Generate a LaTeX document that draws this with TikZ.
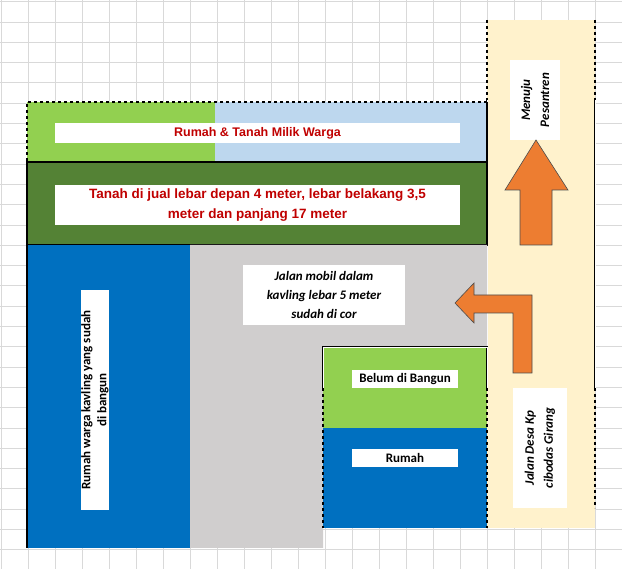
\documentclass[tikz,border=0pt]{standalone}
\usepackage{fontspec}
\setmainfont{Carlito}
\newfontfamily\arl{Liberation Sans}
\definecolor{grid}{HTML}{D9D9D9}
\definecolor{lgreen}{HTML}{92D050}
\definecolor{lblue}{HTML}{BDD7EE}
\definecolor{dgreen}{HTML}{548235}
\definecolor{mblue}{HTML}{0070C0}
\definecolor{lgray}{HTML}{D0CECE}
\definecolor{road}{HTML}{FFF2CC}
\definecolor{orng}{HTML}{ED7D31}
\definecolor{tred}{HTML}{C00000}
\begin{document}
\begin{tikzpicture}[x=1pt,y=-1pt,
  lbl/.style={fill=white,inner sep=0pt,align=center,font=\fontsize{13}{16}\selectfont\bfseries},
  arr/.style={fill=orng,draw=black!70,line width=0.6pt}]
\useasboundingbox (0,0) rectangle (622,569);
\fill[white] (0,0) rectangle (622,569);
\foreach \i in {0,...,23} \draw[grid] (1+27*\i,0) -- (1+27*\i,569);
\foreach \j in {0,...,28} \draw[grid] (0,1.5+20.3*\j) -- (622,1.5+20.3*\j);
% road
\fill[road] (487,20) rectangle (595,528);
\draw[dashed,line width=1.2pt] (487,20) -- (487,100);
\draw[double,line width=0.5pt] (487,100) -- (487,388);
\draw[dashed,line width=1.2pt] (595,20) -- (595,100);
\draw[double,line width=0.5pt] (595,100) -- (595,388);
\draw[dashed,line width=1.2pt] (595,388) -- (595,508);
% top
\fill[lgreen] (27,102) rectangle (215,162);
\fill[lblue] (215,102) rectangle (487,162);
\draw[dashed,line width=1.2pt] (487,102) -- (27,102) -- (27,162);
\draw[line width=1.5pt] (487,102) -- (487,162);
\node[lbl,minimum width=405pt,minimum height=20pt,text=tred,font=\arl\bfseries\fontsize{12.5}{14}\selectfont] (t1) at (257.5,133) {Rumah \& Tanah Milik Warga};
% dark green
\fill[dgreen,draw=black,line width=1.5pt] (27,162) rectangle (487,245);
\node[lbl,minimum width=405pt,minimum height=40pt,text=tred,font=\arl\bfseries\fontsize{13.5}{20}\selectfont] (t2) at (257.5,205) {Tanah di jual lebar depan 4 meter, lebar belakang 3,5\\meter dan panjang 17 meter};
% blue and gray
\fill[mblue] (27,245) rectangle (190,548);
\fill[lgray] (190,245) -- (487,245) -- (487,347) -- (323,347) -- (323,548) -- (190,548) -- cycle;
\draw[line width=1.2pt] (27,245) -- (27,548);
\node[lbl,minimum width=220pt,minimum height=26pt,rotate=90] (t3) at (95,400) {Rumah warga kavling yang sudah\\di bangun};
\node[lbl,minimum width=162pt,minimum height=60pt,font=\fontsize{13}{19}\selectfont\bfseries\itshape] (t4) at (324,295) {Jalan mobil dalam\\kavling lebar 5 meter\\sudah di cor};
% plot
\fill[lgreen] (323,347) rectangle (487,428);
\fill[mblue] (323,428) rectangle (487,528);
\draw[double,line width=0.5pt] (323,388) -- (323,347) -- (487,347) -- (487,388);
\draw[dashed,line width=1.2pt] (323,388) -- (323,528);
\draw[dashed,line width=1.2pt] (487,388) -- (487,528);
\node[lbl,minimum width=106pt,minimum height=18pt] (t5) at (405,379) {Belum di Bangun};
\node[lbl,minimum width=106pt,minimum height=18pt] (t6) at (405,458) {Rumah};
% labels in road
\node[lbl,minimum width=80pt,minimum height=50pt,rotate=90,font=\fontsize{13}{19}\selectfont\bfseries\itshape] (t7) at (535,100) {Menuju\\Pesantren};
\node[lbl,minimum width=120pt,minimum height=54pt,rotate=90,font=\fontsize{13}{19}\selectfont\bfseries\itshape] (t8) at (540,448) {Jalan Desa Kp\\cibodas Girang};
% arrows
\draw[arr] (520,245) -- (520,190) -- (505,190) -- (536,140) -- (568,190) -- (552,190) -- (552,245) -- cycle;
\draw[arr] (513,373) -- (513,313) -- (474,313) -- (474,323) -- (455,303) -- (474,283) -- (474,295) -- (532,295) -- (532,373) -- cycle;
\end{tikzpicture}
\end{document}
